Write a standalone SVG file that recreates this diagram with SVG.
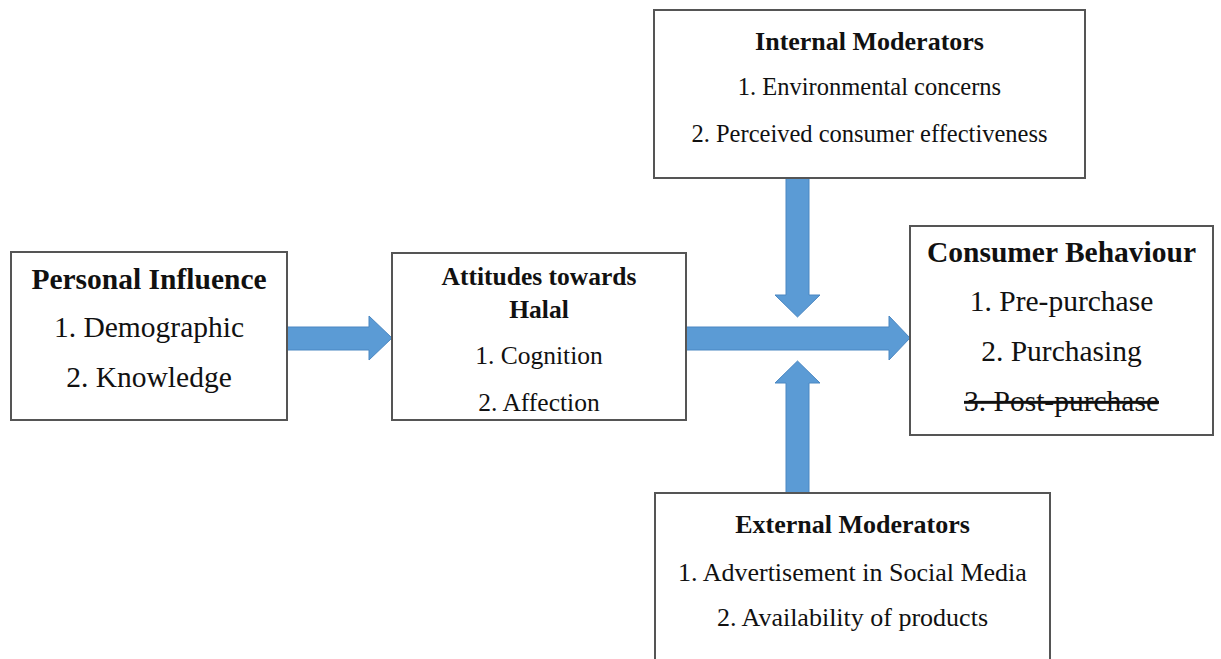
<svg xmlns="http://www.w3.org/2000/svg" width="1221" height="659" viewBox="0 0 1221 659">
<style>
.box{fill:#fff;stroke:#555;stroke-width:2}
.arr{fill:#5b9bd5;stroke:#4a87c2;stroke-width:1}
text{font-family:"Liberation Serif","Times New Roman",serif;fill:#111;text-anchor:middle}
.b{font-weight:bold}
</style>
<rect width="1221" height="659" fill="#fff"/>
<g id="connectors">
<polygon class="arr" points="287,327 369,327 369,316 392,338 369,360 369,350 287,350"/>
<polygon class="arr" points="686,327 889,327 889,316 910,338 889,360 889,350 686,350"/>
<polygon class="arr" points="786,178 809,178 809,295 820,295 797.5,317 775,295 786,295"/>
<polygon class="arr" points="786,494 809,494 809,383 820,383 797.5,361 775,383 786,383"/>
</g>
<g id="personal">
<rect class="box" x="11" y="252" width="276" height="168"/>
<text class="b" x="149" y="289" font-size="29.5">Personal Influence</text>
<text x="149" y="337" font-size="29.5">1. Demographic</text>
<text x="149" y="387" font-size="29.5">2. Knowledge</text>
</g>
<g id="attitudes">
<rect class="box" x="392" y="253" width="294" height="167"/>
<text class="b" x="539" y="285" font-size="25.5">Attitudes towards</text>
<text class="b" x="539" y="318" font-size="25.5">Halal</text>
<text x="539" y="364" font-size="25.5">1. Cognition</text>
<text x="539" y="411" font-size="25.5">2. Affection</text>
</g>
<g id="internal">
<rect class="box" x="654" y="10" width="431" height="168"/>
<text class="b" x="869.5" y="50" font-size="26">Internal Moderators</text>
<text x="869.5" y="95" font-size="24.5">1. Environmental concerns</text>
<text x="869.5" y="142" font-size="24.5">2. Perceived consumer effectiveness</text>
</g>
<g id="consumer">
<rect class="box" x="910" y="226" width="303" height="209"/>
<text class="b" x="1061.5" y="262" font-size="29.5">Consumer Behaviour</text>
<text x="1061.5" y="311" font-size="29.5">1. Pre-purchase</text>
<text x="1061.5" y="361" font-size="29.5">2. Purchasing</text>
<text x="1061.5" y="411" font-size="29.5" text-decoration="line-through">3. Post-purchase</text>
</g>
<g id="external">
<rect class="box" x="655" y="493" width="395" height="180"/>
<text class="b" x="852.5" y="533" font-size="26">External Moderators</text>
<text x="852.5" y="581" font-size="26">1. Advertisement in Social Media</text>
<text x="852.5" y="626" font-size="26">2. Availability of products</text>
</g>
</svg>
